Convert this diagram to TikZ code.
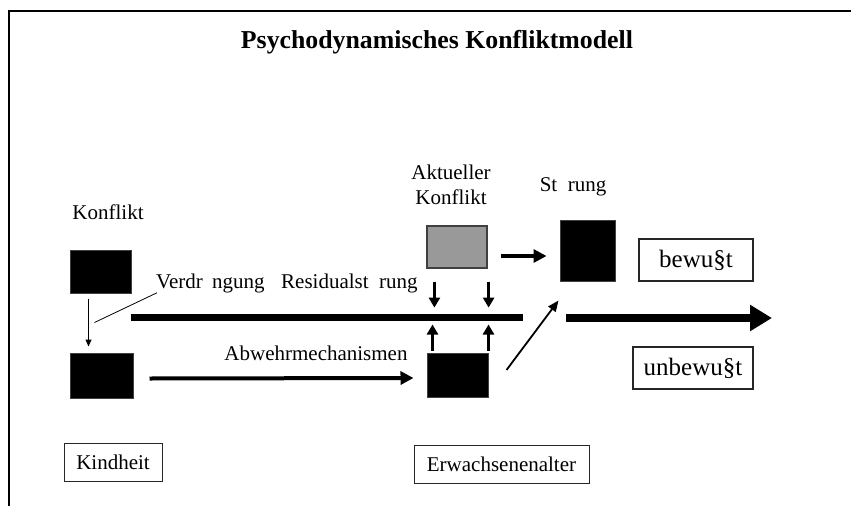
\documentclass[tikz,border=0pt]{standalone}
\usepackage{fontspec}
\setmainfont{Liberation Serif}
\usetikzlibrary{arrows.meta,calc}
\begin{document}
\begin{tikzpicture}[x=1pt,y=-1pt,
  lbl/.style={font=\fontsize{21}{25}\selectfont, inner sep=0},
  blk/.style={draw=black!75, fill=black, line width=1, inner sep=0},
  gry/.style={draw=black!75, fill=black!40, line width=1.2, inner sep=0},
  tag/.style={draw=black!85, line width=1, inner sep=0, font=\fontsize{21}{25}\selectfont},
  bigtag/.style={draw=black!85, line width=1.2, inner sep=0, font=\fontsize{25}{29}\selectfont},
  thinarr/.style={line width=1, -{Triangle[length=7,width=6]}},
  midarr/.style={line width=4, -{Triangle[length=13,width=13]}},
  smallarr/.style={line width=3, -{Triangle[length=10,width=11]}},
  diagarr/.style={line width=1.8, -{Triangle[length=11,width=9]}},
  bigarr/.style={line width=8, -{Triangle[length=22,width=25]}}
]
\useasboundingbox (0,0) rectangle (851,506);
\draw[line width=2] (9,506) -- (9,10.5) -- (851,10.5);

\node[font=\bfseries\fontsize{25.8}{30}\selectfont, inner sep=0] (title) at (437,42) {Psychodynamisches Konfliktmodell};

% labels
\node[lbl] (konf) at (108,212) {Konflikt};
\node[lbl, anchor=west] (verd) at (156,283) {Verdr\hspace{0.44em}ngung};
\node[lbl, anchor=west] (resid) at (281,283) {Residualst\hspace{0.5em}rung};
\node[lbl, align=center] (akt) at (451,185) {Aktueller\\Konflikt};
\node[lbl] (stoer) at (573,187) {St\hspace{0.5em}rung};
\node[lbl] (abwehr) at (316,353) {Abwehrmechanismen};

% boxes
\node[blk, minimum width=61, minimum height=43] (k1) at (100.5,271.5) {};
\node[blk, minimum width=63, minimum height=45] (k2) at (101.5,375.5) {};
\node[gry, minimum width=60, minimum height=42] (g) at (457,247) {};
\node[blk, minimum width=55, minimum height=61] (s) at (587.5,250.5) {};
\node[blk, minimum width=61, minimum height=44] (e) at (457.5,375) {};

\node[bigtag, minimum width=114, minimum height=42] (bew) at (696,260) {bewu§t};
\node[bigtag, minimum width=120, minimum height=42] (unbew) at (693,368) {unbewu§t};
\node[tag, minimum width=98, minimum height=38] (kind) at (113,462) {Kindheit};
\node[tag, minimum width=175, minimum height=38] (erw) at (501.5,464) {Erwachsenenalter};

% border line
\coordinate (la) at (131,317);
\coordinate (lb) at (523,317);
\draw[line width=7] (la) -- (lb);

% connectors
\draw[thinarr] ($(k1.south west)+(19,5)$) -- ($(k2.north west)+(19,-6)$);
\draw[line width=0.8] ($(verd.south west)+(1,0)$) -- ($(k2.north west)+(25,-30)$);
\draw[midarr] ($(k2.east)+(16,3)$) -- ($(e.west)+(-13,3)$);
\draw[smallarr] ($(g.south west)+(8,13)$) -- ($(g.south west)+(8,39)$);
\draw[smallarr] ($(g.south east)+(1,13)$) -- ($(g.south east)+(1,39)$);
\draw[smallarr] ($(e.north west)+(6,-2)$) -- ($(e.north west)+(6,-28)$);
\draw[smallarr] ($(e.north east)+(0,-2)$) -- ($(e.north east)+(0,-28)$);
\draw[midarr] ($(g.east)+(13,9)$) -- ($(s.west)+(-13,5.5)$);
\draw[diagarr] ($(e.east)+(18,-5)$) -- ($(s.south west)+(-1,19)$);
\coordinate (ba) at (566,318);
\coordinate (bb) at (772,318);
\draw[bigarr] (ba) -- (bb);
\end{tikzpicture}
\end{document}
